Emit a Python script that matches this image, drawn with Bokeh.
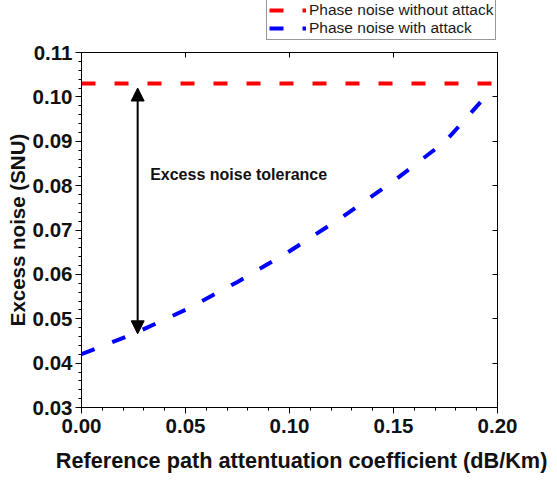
from bokeh.plotting import figure
from bokeh.layouts import column
from bokeh.models import (Range1d, FixedTicker, LinearAxis, NumeralTickFormatter,
                          Legend, LegendItem, Arrow, NormalHead, Label)
from bokeh.embed import file_html
from bokeh.resources import INLINE

# ---- data ----
x_no_attack = [0.0, 0.2]
y_no_attack = [0.103, 0.103]

x_attack = [0.000, 0.025, 0.050, 0.075, 0.100, 0.125, 0.150, 0.175, 0.196]
y_attack = [0.0420, 0.0466, 0.0520, 0.0583, 0.0652, 0.0728, 0.0810, 0.0900, 0.1010]

x_ticks = [0.00, 0.05, 0.10, 0.15, 0.20]
x_minor = [i / 100 for i in range(0, 21)]
y_ticks = [0.03, 0.04, 0.05, 0.06, 0.07, 0.08, 0.09, 0.10, 0.11]
y_minor = [round(0.03 + i * 0.002, 3) for i in range(0, 41)]

arrow_x = 0.027
arrow_top = 0.1020
arrow_bottom = 0.0466
annot_x = 0.033
annot_y = 0.0825
annot_text = "Excess noise tolerance"

legend_labels = ["Phase noise without attack", "Phase noise with attack"]
x_label = "Reference path attentuation coefficient (dB/Km)"
y_label = "Excess noise (SNU)"

FONT = "Liberation Sans"
RED = "#ff0000"
BLUE = "#0000ff"
DASH = "14 19"

# ---------- main plot ----------
p = figure(width=549, height=435, output_backend="svg", toolbar_location=None,
           x_range=Range1d(0.0, 0.2), y_range=Range1d(0.03, 0.11),
           min_border_left=81, min_border_right=52, min_border_top=12, min_border_bottom=66)
p.xgrid.visible = False
p.ygrid.visible = False
p.outline_line_color = "black"
p.outline_line_width = 1
p.background_fill_color = "white"
p.border_fill_color = "white"

p.line(x_no_attack, y_no_attack, line_color=RED, line_width=4, line_dash=DASH, line_cap="butt")
p.line(x_attack, y_attack, line_color=BLUE, line_width=4, line_dash=DASH, line_cap="butt")

def style_axis(ax, ticks, minor, inward=False):
    ax.ticker = FixedTicker(ticks=ticks, minor_ticks=minor)
    ax.formatter = NumeralTickFormatter(format="0.00")
    ax.axis_line_color = "black"
    ax.axis_line_width = 1
    ax.major_tick_line_color = "black"
    ax.minor_tick_line_color = "black"
    if inward:
        ax.major_tick_in = 5
        ax.major_tick_out = 0
        ax.minor_tick_in = 0
        ax.minor_tick_out = 0
        ax.major_label_text_font_size = "0px"
        ax.major_label_text_alpha = 0
        ax.major_label_standoff = 0
    else:
        ax.major_tick_in = 0
        ax.major_tick_out = 6
        ax.minor_tick_in = 0
        ax.minor_tick_out = 3
        ax.major_label_text_font = FONT
        ax.major_label_text_font_style = "bold"
        ax.major_label_text_font_size = "20.5px"
        ax.major_label_text_color = "#111111"
        ax.axis_label_text_font = FONT
        ax.axis_label_text_font_style = "bold"
        ax.axis_label_text_color = "#111111"

style_axis(p.xaxis[0], x_ticks, x_minor)
p.xaxis[0].axis_label = "\u00a0\u00a0\u00a0\u00a0" + x_label
p.xaxis[0].axis_label_text_font_size = "21.7px"
p.xaxis[0].major_label_standoff = 5
p.xaxis[0].axis_label_standoff = 12

style_axis(p.yaxis[0], y_ticks, y_minor)
p.yaxis[0].axis_label = y_label
p.yaxis[0].axis_label_text_font_size = "20.5px"
p.yaxis[0].major_label_standoff = 3
p.yaxis[0].axis_label_standoff = 1

top_ax = LinearAxis()
style_axis(top_ax, x_ticks, [], inward=True)
p.add_layout(top_ax, "above")
right_ax = LinearAxis()
style_axis(right_ax, y_ticks, [], inward=True)
p.add_layout(right_ax, "right")

arrow = Arrow(start=NormalHead(size=13, fill_color="black", line_color="black"),
              end=NormalHead(size=13, fill_color="black", line_color="black"),
              x_start=arrow_x, y_start=arrow_bottom, x_end=arrow_x, y_end=arrow_top,
              line_width=2, line_color="black")
p.add_layout(arrow)

lbl = Label(x=annot_x, y=annot_y, text=annot_text, text_font=FONT,
            text_font_style="bold", text_font_size="16px", text_baseline="middle",
            text_color="#111111")
p.add_layout(lbl)

# ---------- legend strip above the plot ----------
lg = figure(width=549, height=40, output_backend="svg", toolbar_location=None,
            x_axis_type=None, y_axis_type=None, min_border=0,
            x_range=Range1d(10, 11), y_range=Range1d(10, 11))
lg.xgrid.visible = False
lg.ygrid.visible = False
lg.outline_line_color = None
# legend-only renderers (their data lies outside this strip's ranges)
lg_red = lg.line(x_no_attack, y_no_attack, line_color=RED, line_width=4, line_dash=DASH, line_cap="butt")
lg_blue = lg.line(x_attack, y_attack, line_color=BLUE, line_width=4, line_dash=DASH, line_cap="butt")

legend = Legend(items=[LegendItem(label=legend_labels[0], renderers=[lg_red]),
                       LegendItem(label=legend_labels[1], renderers=[lg_blue])],
                location=(185, 0), orientation="vertical",
                label_text_font=FONT, label_text_font_size="15.5px", label_text_color="#1a1a1a",
                glyph_width=37, glyph_height=18, label_height=18, label_standoff=3,
                spacing=0, padding=2, margin=0,
                border_line_color="#333333", border_line_width=1,
                background_fill_color="white", background_fill_alpha=1)
lg.add_layout(legend)

layout = column(lg, p, spacing=0)
open("out.html", "w").write(file_html(layout, INLINE))
